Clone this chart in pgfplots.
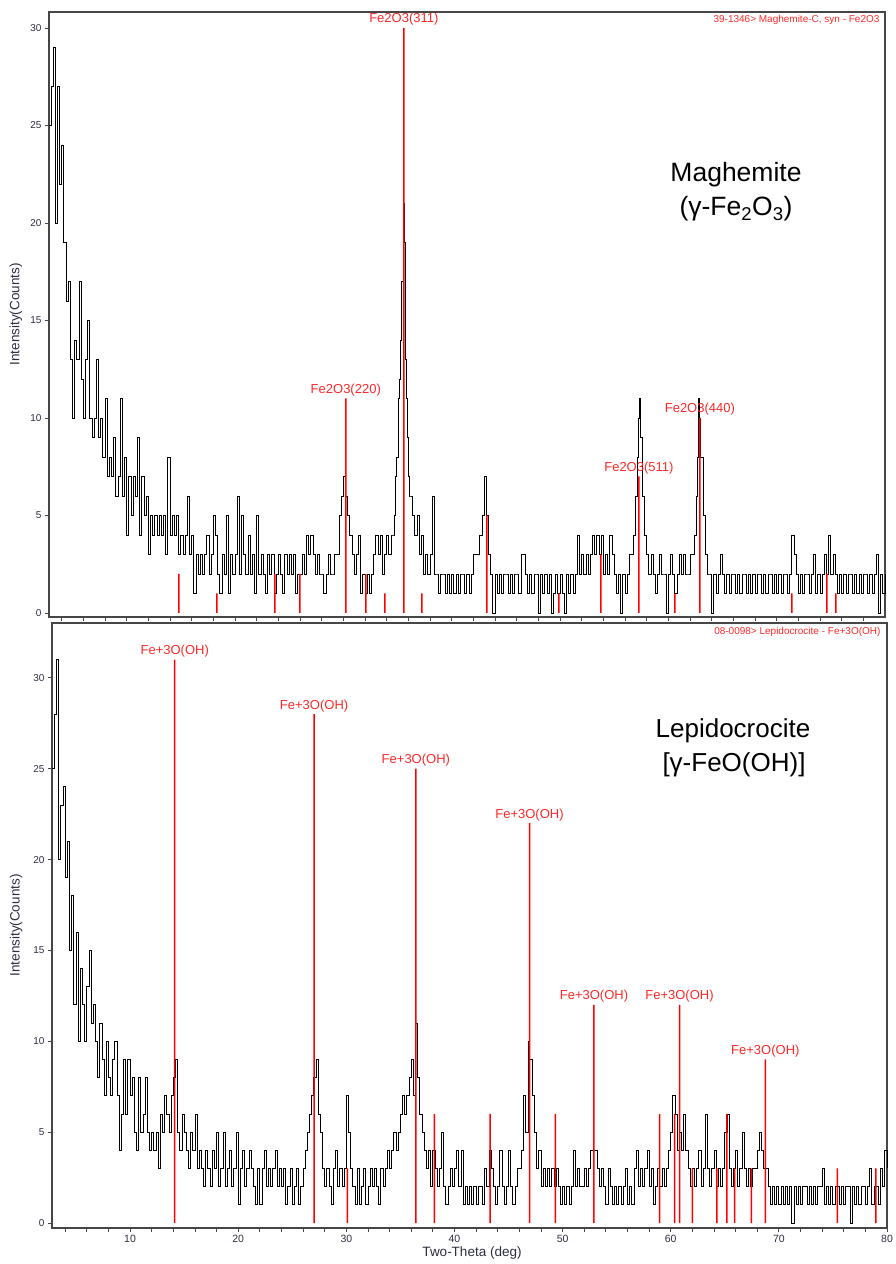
\documentclass[border=0pt]{standalone}
\usepackage{fontspec}
\setmainfont{Liberation Sans}
\usepackage{pgfplots}
\pgfplotsset{compat=1.18}
\definecolor{tickc}{RGB}{45,45,65}
\definecolor{framec}{RGB}{70,70,70}
\definecolor{stickred}{RGB}{255,0,0}
\definecolor{lab}{RGB}{255,40,40}
\tikzset{flab/.style={text=lab, anchor=base, font=\fontsize{13}{15}\selectfont, yshift=5pt}}
\begin{document}
\begin{tikzpicture}[x=1pt,y=1pt]
\useasboundingbox (0,0) rectangle (895,1264);
\pgfplotsset{
  xrdaxis/.style={
    scale only axis, height=605pt,
    axis line style={framec, line width=1.2pt},
    tick style={framec, line width=0.8pt},
    tick align=outside, major tick length=4pt, minor tick length=4pt,
    ytick={0,5,...,30}, ytick pos=left, xtick pos=bottom,
    yticklabel style={font=\fontsize{10}{12}\selectfont, text=tickc},
    xticklabel style={font=\fontsize{10.5}{12}\selectfont, text=tickc},
    /pgf/number format/assume math mode=true,
    clip=false,
    label style={font=\fontsize{13.5}{15}\selectfont, text=tickc},
  },
  sticks/.style={ybar, bar width=1.5pt, bar shift=0pt, fill=stickred, draw=none},
}
% ---------------- top panel: maghemite ----------------
\begin{axis}[xrdaxis, at={(49pt,647pt)}, anchor=south west, width=836pt,
  xmin=2.82, xmax=80, ymin=-0.205, ymax=30.82,
  xtick={4,6,...,78}, xticklabel=\empty,
  ylabel={Intensity(Counts)},
  ylabel style={at={(axis description cs:-0.0395,0.5)}, anchor=center}]
\addplot[const plot, black, line width=0.9pt] coordinates {
(2.8,25)(3.0,27)(3.2,29)(3.4,20)(3.6,27)(3.8,22)(4.0,24)(4.2,19)(4.4,16)(4.6,17)(4.8,13)
(5.0,10)(5.2,14)(5.4,13)(5.6,17)(5.8,12)(6.0,10)(6.2,13)(6.4,15)(6.6,10)(6.8,9)
(7.0,10)(7.2,13)(7.4,9)(7.6,10)(7.8,8)(8.0,11)(8.2,7)(8.4,8)(8.6,7)(8.8,9)
(9.0,6)(9.2,7)(9.4,11)(9.6,6)(9.8,8)(10.0,4)(10.2,7)(10.4,5)(10.6,7)(10.8,6)
(11.0,9)(11.2,4)(11.4,7)(11.6,5)(11.8,6)(12.0,3)(12.2,5)(12.4,4)(12.6,5)(12.8,4)
(13.0,5)(13.2,4)(13.4,5)(13.6,3)(13.8,8)(14.0,4)(14.2,5)(14.4,4)(14.6,5)(14.8,3)
(15.0,4)(15.2,3)(15.4,4)(15.6,6)(15.8,3)(16.0,4)(16.2,1)(16.4,3)(16.6,2)(16.8,3)
(17.0,2)(17.2,3)(17.4,4)(17.6,2)(17.8,3)(18.0,5)(18.2,4)(18.4,2)(18.6,1)(18.8,3)
(19.0,2)(19.2,5)(19.4,1)(19.6,3)(19.8,2)(20.0,3)(20.2,6)(20.4,2)(20.6,5)(20.8,3)
(21.0,2)(21.2,4)(21.4,2)(21.6,3)(21.8,1)(22.0,5)(22.2,2)(22.4,3)(22.6,2)(22.8,1)
(23.0,3)(23.2,2)(23.4,3)(23.6,1)(23.8,2)(24.0,3)(24.2,2)(24.4,1)(24.6,3)(24.8,2)
(25.0,3)(25.2,2)(25.4,3)(25.6,1)(25.8,2)(26.0,2)(26.2,3)(26.4,2)(26.6,4)(26.8,3)
(27.0,4)(27.2,3)(27.4,2)(27.6,3)(27.8,2)(28.0,2)(28.2,1)(28.4,2)(28.6,3)(28.8,2)
(29.0,2)(29.2,3)(29.4,3)(29.6,5)(29.8,6)(30.0,7)(30.2,6)(30.4,5)(30.6,4)(30.8,3)
(31.0,2)(31.2,3)(31.4,4)(31.6,1)(31.8,2)(32.0,1)(32.2,2)(32.4,1)(32.6,2)(32.8,3)
(33.0,4)(33.2,3)(33.4,4)(33.6,2)(33.8,3)(34.0,4)(34.2,3)(34.4,4)(34.6,4)(34.7,5)(34.8,7)(34.9,8)
(35.0,8)(35.1,11)(35.2,12)(35.3,14)(35.4,17)(35.5,21)(35.6,19)(35.7,13)(35.8,11)(35.9,9)
(36.0,7)(36.1,6)(36.2,6)(36.4,5)(36.6,4)(36.8,5)(37.0,3)(37.2,4)(37.4,2)(37.6,3)(37.8,2)
(38.0,3)(38.2,6)(38.4,2)(38.6,2)(38.8,1)(39.0,2)(39.2,2)(39.4,1)(39.6,2)(39.8,1)
(40.0,2)(40.2,1)(40.4,2)(40.6,1)(40.8,2)(41.0,2)(41.2,1)(41.4,2)(41.6,1)(41.8,2)
(42.0,3)(42.2,3)(42.4,3)(42.6,4)(42.8,5)(43.0,7)(43.2,5)(43.4,3)(43.6,2)(43.8,0)
(44.0,2)(44.2,1)(44.4,2)(44.6,1)(44.8,2)(45.0,2)(45.2,1)(45.4,2)(45.6,1)(45.8,2)
(46.0,2)(46.2,1)(46.4,3)(46.6,3)(46.8,2)(47.0,1)(47.2,2)(47.4,1)(47.6,2)(47.8,2)
(48.0,0)(48.2,2)(48.4,1)(48.6,2)(48.8,1)(49.0,2)(49.2,0)(49.4,1)(49.6,2)(49.8,1)
(50.0,2)(50.2,1)(50.4,0)(50.6,2)(50.8,1)(51.0,2)(51.2,1)(51.4,2)(51.6,4)(51.8,2)
(52.0,3)(52.2,2)(52.4,3)(52.6,2)(52.8,3)(53.0,4)(53.2,3)(53.4,4)(53.6,3)(53.8,4)
(54.0,2)(54.2,3)(54.4,2)(54.6,4)(54.8,3)(55.0,2)(55.2,1)(55.4,2)(55.6,0)(55.8,2)
(56.0,1)(56.2,2)(56.4,3)(56.6,3)(56.8,4)(57.0,6)(57.1,8)(57.2,10)(57.3,11)(57.4,9)(57.6,6)(57.8,4)
(58.0,3)(58.2,2)(58.4,3)(58.6,2)(58.8,1)(59.0,2)(59.2,3)(59.4,2)(59.6,2)(59.8,0)
(60.0,2)(60.2,3)(60.4,2)(60.6,1)(60.8,2)(61.0,3)(61.2,2)(61.4,3)(61.6,2)(61.8,2)
(62.0,3)(62.2,3)(62.4,4)(62.6,6)(62.7,8)(62.8,11)(62.9,10)(63.0,8)(63.2,5)(63.4,3)(63.6,2)(63.8,2)
(64.0,0)(64.2,2)(64.4,1)(64.6,2)(64.8,3)(65.0,2)(65.2,1)(65.4,2)(65.6,1)(65.8,2)
(66.0,2)(66.2,1)(66.4,2)(66.6,1)(66.8,2)(67.0,2)(67.2,1)(67.4,2)(67.6,1)(67.8,2)
(68.0,1)(68.2,2)(68.4,2)(68.6,1)(68.8,2)(69.0,1)(69.2,2)(69.4,2)(69.6,1)(69.8,2)
(70.0,1)(70.2,2)(70.4,1)(70.6,2)(70.8,2)(71.0,1)(71.2,2)(71.4,4)(71.6,3)(71.8,2)
(72.0,1)(72.2,2)(72.4,1)(72.6,2)(72.8,2)(73.0,1)(73.2,2)(73.4,3)(73.6,1)(73.8,2)
(74.0,1)(74.2,2)(74.4,3)(74.6,2)(74.8,4)(75.0,2)(75.2,3)(75.4,2)(75.6,1)(75.8,2)
(76.0,1)(76.2,2)(76.4,1)(76.6,2)(76.8,2)(77.0,1)(77.2,2)(77.4,1)(77.6,2)(77.8,1)
(78.0,2)(78.2,2)(78.4,1)(78.6,2)(78.8,1)(79.0,2)(79.2,3)(79.4,0)(79.6,2)(79.8,1)(80.0,2)
};
\addplot[sticks] coordinates {
(14.80,2)(18.31,1)(23.67,2)(25.98,2)(30.22,11)(32.07,2)(33.82,1)(35.58,30)(37.24,1)
(43.24,5)(49.89,1)(53.77,3)(57.28,7)(60.60,1)(62.91,10)(71.41,1)(74.64,2)(75.47,1)
};
\node[flab] at (axis cs:35.58,30) {Fe2O3(311)};
\node[flab] at (axis cs:30.22,11) {Fe2O3(220)};
\node[flab] at (axis cs:57.28,7) {Fe2O3(511)};
\node[flab] at (axis cs:62.91,10) {Fe2O3(440)};
\end{axis}
% ---------------- bottom panel: lepidocrocite ----------------
\begin{axis}[xrdaxis, at={(52pt,36pt)}, anchor=south west, width=835pt,
  xmin=2.78, xmax=80, ymin=-0.275, ymax=33.02,
  xtick={10,20,...,80}, minor xtick={4,6,...,78},
  xlabel={Two-Theta (deg)},
  xlabel style={at={(axis description cs:0.503,-0.041)}, anchor=center},
  ylabel={Intensity(Counts)},
  ylabel style={at={(axis description cs:-0.043,0.5)}, anchor=center}]
\addplot[const plot, black, line width=0.9pt] coordinates {
(2.8,25)(3.0,28)(3.2,31)(3.4,20)(3.6,23)(3.8,24)(4.0,19)(4.2,21)(4.4,15)(4.6,18)(4.8,12)
(5.0,16)(5.2,10)(5.4,14)(5.6,12)(5.8,10)(6.0,13)(6.2,15)(6.4,11)(6.6,12)(6.8,10)
(7.0,8)(7.2,11)(7.4,9)(7.6,7)(7.8,10)(8.0,8)(8.2,7)(8.4,9)(8.6,10)(8.8,7)
(9.0,4)(9.2,6)(9.4,9)(9.6,6)(9.8,9)(10.0,7)(10.2,8)(10.4,5)(10.6,4)(10.8,8)
(11.0,5)(11.2,6)(11.4,8)(11.6,5)(11.8,4)(12.0,5)(12.2,4)(12.4,5)(12.6,3)(12.8,6)
(13.0,5)(13.2,7)(13.4,6)(13.6,5)(13.8,7)(14.0,8)(14.2,9)(14.4,5)(14.6,4)(14.8,6)
(15.0,5)(15.2,4)(15.4,3)(15.6,5)(15.8,4)(16.0,6)(16.2,3)(16.4,4)(16.6,3)(16.8,2)
(17.0,4)(17.2,3)(17.4,2)(17.6,4)(17.8,3)(18.0,5)(18.2,2)(18.4,3)(18.6,5)(18.8,2)
(19.0,3)(19.2,4)(19.4,2)(19.6,3)(19.8,5)(20.0,1)(20.2,3)(20.4,4)(20.6,2)(20.8,3)
(21.0,4)(21.2,3)(21.4,2)(21.6,1)(21.8,3)(22.0,1)(22.2,3)(22.4,4)(22.6,2)(22.8,3)
(23.0,2)(23.2,3)(23.4,4)(23.6,2)(23.8,3)(24.0,2)(24.2,3)(24.4,1)(24.6,2)(24.8,3)
(25.0,1)(25.2,2)(25.4,3)(25.6,1)(25.8,2)(26.0,3)(26.2,4)(26.4,5)(26.6,6)(26.8,7)
(27.0,8)(27.2,9)(27.4,6)(27.6,5)(27.8,3)(28.0,2)(28.2,3)(28.4,2)(28.6,1)(28.8,3)
(29.0,4)(29.2,2)(29.4,3)(29.6,2)(29.8,3)(30.0,7)(30.2,5)(30.4,3)(30.6,2)(30.8,1)
(31.0,3)(31.2,1)(31.4,2)(31.6,3)(31.8,1)(32.0,2)(32.2,3)(32.4,2)(32.6,3)(32.8,2)
(33.0,1)(33.2,3)(33.4,2)(33.6,3)(33.8,4)(34.0,3)(34.2,4)(34.4,5)(34.6,4)(34.8,5)
(35.0,6)(35.2,7)(35.4,6)(35.6,7)(35.8,8)(36.0,9)(36.2,7)(36.4,11)(36.6,8)(36.8,6)
(37.0,5)(37.2,4)(37.4,3)(37.6,4)(37.8,2)(38.0,4)(38.2,3)(38.4,2)(38.6,3)(38.8,5)
(39.0,2)(39.2,1)(39.4,2)(39.6,3)(39.8,2)(40.0,3)(40.2,4)(40.4,2)(40.6,4)(40.8,1)
(41.0,2)(41.2,1)(41.4,2)(41.6,1)(41.8,2)(42.0,1)(42.2,2)(42.4,2)(42.6,1)(42.8,3)
(43.0,2)(43.2,4)(43.4,3)(43.6,2)(43.8,1)(44.0,2)(44.2,4)(44.4,2)(44.6,1)(44.8,2)
(45.0,4)(45.2,2)(45.4,1)(45.6,2)(45.8,3)(46.0,3)(46.2,4)(46.4,7)(46.6,5)(46.8,10)(46.9,9)
(47.0,9)(47.2,7)(47.4,5)(47.6,3)(47.8,4)(48.0,2)(48.2,3)(48.4,2)(48.6,3)(48.8,2)
(49.0,3)(49.2,2)(49.4,3)(49.6,2)(49.8,1)(50.0,2)(50.2,1)(50.4,2)(50.6,1)(50.8,2)
(51.0,4)(51.2,2)(51.4,3)(51.6,2)(51.8,2)(52.0,3)(52.2,2)(52.4,3)(52.6,4)(52.8,4)
(53.0,4)(53.2,3)(53.4,2)(53.6,3)(53.8,2)(54.0,1)(54.2,3)(54.4,2)(54.6,1)(54.8,2)
(55.0,1)(55.2,2)(55.4,1)(55.6,2)(55.8,3)(56.0,1)(56.2,2)(56.4,1)(56.6,3)(56.8,4)
(57.0,2)(57.2,3)(57.4,2)(57.6,3)(57.8,4)(58.0,2)(58.2,3)(58.4,1)(58.6,2)(58.8,3)
(59.0,2)(59.2,3)(59.4,2)(59.6,3)(59.8,4)(60.0,5)(60.2,7)(60.4,6)(60.6,4)(60.8,5)
(61.0,4)(61.2,6)(61.4,4)(61.6,3)(61.8,2)(62.0,3)(62.2,2)(62.4,3)(62.6,4)(62.8,2)
(63.0,3)(63.2,6)(63.4,3)(63.6,2)(63.8,3)(64.0,4)(64.2,2)(64.4,3)(64.6,2)(64.8,3)
(65.0,5)(65.2,6)(65.4,3)(65.6,2)(65.8,3)(66.0,4)(66.2,2)(66.4,3)(66.6,5)(66.8,3)
(67.0,2)(67.2,3)(67.4,2)(67.6,3)(67.8,3)(68.0,4)(68.2,5)(68.4,4)(68.6,3)(68.8,3)
(69.0,2)(69.2,1)(69.4,2)(69.6,1)(69.8,2)(70.0,1)(70.2,2)(70.4,1)(70.6,2)(70.8,1)
(71.0,2)(71.2,0)(71.4,2)(71.6,1)(71.8,2)(72.0,1)(72.2,2)(72.4,2)(72.6,1)(72.8,2)
(73.0,1)(73.2,2)(73.4,1)(73.6,2)(73.8,2)(74.0,3)(74.2,1)(74.4,2)(74.6,1)(74.8,2)
(75.0,1)(75.2,2)(75.4,2)(75.6,1)(75.8,2)(76.0,1)(76.2,2)(76.4,2)(76.6,0)(76.8,2)
(77.0,1)(77.2,2)(77.4,1)(77.6,2)(77.8,2)(78.0,1)(78.2,2)(78.4,3)(78.6,1)(78.8,2)
(79.0,2)(79.2,1)(79.4,3)(79.6,2)(79.8,4)(80.0,3)
};
\addplot[sticks] coordinates {
(14.13,31)(27.02,28)(30.10,3)(36.43,25)(38.15,6)(43.30,6)(46.94,22)(49.32,6)(52.90,12)
(58.97,6)(60.35,6)(60.81,12)(62.00,3)(64.27,3)(65.20,6)(65.90,3)(67.45,3)(68.75,9)(75.40,3)(78.98,3)
};
\node[flab] at (axis cs:14.13,31) {Fe+3O(OH)};
\node[flab] at (axis cs:27.02,28) {Fe+3O(OH)};
\node[flab] at (axis cs:36.43,25) {Fe+3O(OH)};
\node[flab] at (axis cs:46.94,22) {Fe+3O(OH)};
\node[flab] at (axis cs:52.90,12) {Fe+3O(OH)};
\node[flab] at (axis cs:60.81,12) {Fe+3O(OH)};
\node[flab] at (axis cs:68.75,9) {Fe+3O(OH)};
\end{axis}
% ---------------- texts ----------------
\node[text=lab, anchor=east, font=\fontsize{10}{12}\selectfont] at (883,1244) {39-1346> Maghemite-C, syn - Fe2O3};
\node[text=lab, anchor=east, font=\fontsize{10}{12}\selectfont] at (884,632) {08-0098> Lepidocrocite - Fe+3O(OH)};
\node[anchor=base, font=\fontsize{26.5}{30}\selectfont] at (736,1082.5) {Maghemite};
\node[anchor=base, font=\fontsize{26.5}{30}\selectfont] at (736,1048) {(γ-Fe\textsubscript{2}O\textsubscript{3})};
\node[anchor=base, font=\fontsize{26}{30}\selectfont] at (733,526.7) {Lepidocrocite};
\node[anchor=base, font=\fontsize{26}{30}\selectfont] at (734,492.3) {[γ-FeO(OH)]};
\end{tikzpicture}
\end{document}
